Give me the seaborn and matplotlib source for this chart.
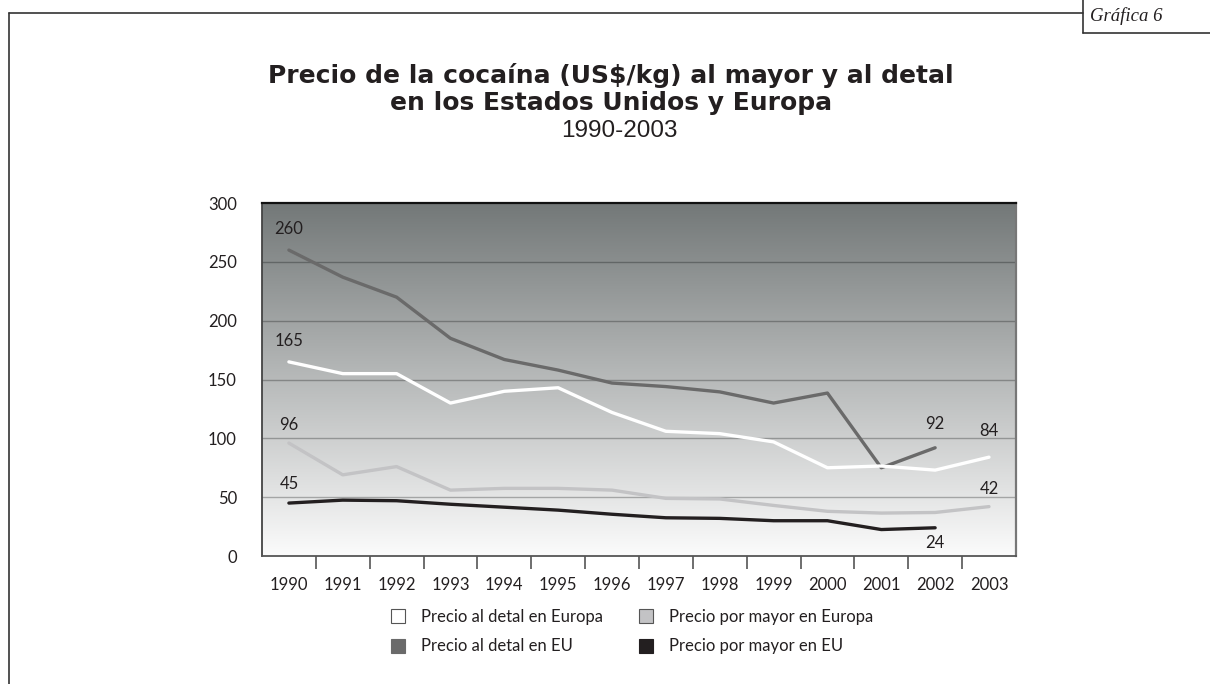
import numpy as np
import pandas as pd
import matplotlib
matplotlib.use("Agg")
import matplotlib.pyplot as plt
from matplotlib.colors import LinearSegmentedColormap
from matplotlib.lines import Line2D
import seaborn as sns

# Years and price series (US$/kg)
years = list(range(1990, 2004))
detal_europa = [165, 155, 155, 130, 140, 143, 122, 106, 104, 97, 75, 76.5, 73, 84]
detal_eu = [260, 237, 220, 185, 167, 158, 147, 144, 139.5, 130, 138.5, 75, 92, None]
mayor_europa = [96, 69, 76, 56, 57.5, 57.5, 56, 49, 48.5, 43, 38, 36.5, 37, 42]
mayor_eu = [45, 47.5, 47, 44, 41.5, 39, 35.5, 32.5, 32, 30, 30, 22.5, 24, None]

series_names = ["Precio al detal en Europa", "Precio al detal en EU",
                "Precio por mayor en Europa", "Precio por mayor en EU"]
series_values = [detal_europa, detal_eu, mayor_europa, mayor_eu]
series_colors = ["#ffffff", "#6a6a6a", "#c3c3c5", "#231f20"]

rows = []
for name, vals in zip(series_names, series_values):
    for y, v in zip(years, vals):
        if v is not None:
            rows.append({"year": y, "precio": v, "serie": name})
df = pd.DataFrame(rows)

sns.set_style("white")
plt.rcParams["font.family"] = ["Lato", "DejaVu Sans"]

fig = plt.figure(figsize=(12.1, 6.84), dpi=100)
ax = fig.add_axes([0.2165, 0.1871, 0.6231, 0.5161])

x0, x1 = 1989.5, 2003.5
# gradient background of the plotting area
cmap = LinearSegmentedColormap.from_list("fondo", [(0.985, 0.985, 0.985), (0.45, 0.47, 0.47)])
grad = np.linspace(0, 1, 256).reshape(-1, 1)
ax.imshow(grad, extent=[x0, x1, 0, 300], origin="lower", aspect="auto", cmap=cmap, zorder=0)

for yv in [50, 100, 150, 200, 250]:
    ax.axhline(yv, color="black", alpha=0.28, lw=1.0, zorder=1)

draw_order = ["Precio al detal en EU", "Precio al detal en Europa",
              "Precio por mayor en Europa", "Precio por mayor en EU"]
palette = dict(zip(series_names, series_colors))
for name in draw_order:
    sns.lineplot(data=df[df.serie == name], x="year", y="precio", color=palette[name],
                 lw=2.4, ax=ax, zorder=3, legend=False)

ax.set_xlim(x0, x1)
ax.set_ylim(0, 300)
ax.set_xlabel("")
ax.set_ylabel("")

# category boundaries as ticks, years as labels
ax.set_xticks([y + 0.5 for y in years[:-1]])
ax.set_xticklabels([])
ax.set_xticks(years, minor=True)
ax.set_xticklabels([str(y) for y in years], minor=True, fontsize=12, color="#231f20")
ax.tick_params(axis="x", which="major", direction="out", length=9, width=1.2,
               color="#555555", bottom=True)
ax.tick_params(axis="x", which="minor", length=0, pad=15)
ax.set_yticks([0, 50, 100, 150, 200, 250, 300])
ax.set_yticklabels(["0", "50", "100", "150", "200", "250", "300"], fontsize=12, color="#231f20")
ax.tick_params(axis="y", length=0, pad=18)

for side, col, lw in [("top", "#111111", 1.6), ("left", "#444444", 1.3),
                      ("bottom", "#555555", 1.3), ("right", "#777777", 1.6)]:
    ax.spines[side].set_visible(True)
    ax.spines[side].set_color(col)
    ax.spines[side].set_linewidth(lw)

# value labels
labels = [(1990, 260, 15), (1990, 165, 15), (1990, 96, 13), (1990, 45, 14),
          (2002, 92, 17), (2003, 84, 19), (2003, 42, 13), (2002, 24, -11)]
for x, v, off in labels:
    ax.annotate(str(v), (x, v), xytext=(0, off), textcoords="offset points",
                ha="center", va="center", fontsize=12, color="#231f20", zorder=5)

# legend (filled column by column: detal on the left, por mayor on the right)
handles = [Line2D([], [], ls="none", marker="s", markersize=10.5, markerfacecolor=c,
                  markeredgecolor="#555555" if c in ("#ffffff", "#c3c3c5") else c,
                  markeredgewidth=0.8) for c in series_colors]
fig.legend(handles, series_names, ncol=2, loc="upper left",
           bbox_to_anchor=(375 / 1210, 1 - 594 / 684), frameon=False, fontsize=12,
           handlelength=1.0, handletextpad=0.85, columnspacing=2.1, labelspacing=0.8,
           labelcolor="#231f20")

# titles
fig.text(0.505, 1 - 75 / 684, "Precio de la cocaína (US$/kg) al mayor y al detal",
         ha="center", va="center", fontsize=18, fontweight="bold",
         family=["DejaVu Sans"], color="#231f20")
fig.text(0.505, 1 - 103 / 684, "en los Estados Unidos y Europa",
         ha="center", va="center", fontsize=18, fontweight="bold",
         family=["DejaVu Sans"], color="#231f20")
fig.text(0.512, 1 - 131 / 684, "1990-2003", ha="center", va="center", fontsize=17.5,
         family=["Liberation Sans Narrow", "Liberation Sans"], color="#231f20")

# page frame and tag box
fc = "#333333"
fig.add_artist(Line2D([9 / 1210, 9 / 1210], [0, 1 - 13 / 684], color=fc, lw=1.2,
                      transform=fig.transFigure))
fig.add_artist(Line2D([9 / 1210, 1083 / 1210], [1 - 13 / 684, 1 - 13 / 684], color=fc,
                      lw=1.2, transform=fig.transFigure))
fig.add_artist(Line2D([1083 / 1210, 1083 / 1210], [1, 1 - 33 / 684], color=fc, lw=1.2,
                      transform=fig.transFigure))
fig.add_artist(Line2D([1083 / 1210, 1], [1 - 33 / 684, 1 - 33 / 684], color=fc, lw=1.2,
                      transform=fig.transFigure))
fig.text(1090 / 1210, 1 - 16 / 684, "Gráfica 6", ha="left", va="center", fontsize=13.5,
         style="italic", family=["Liberation Serif", "DejaVu Serif"], color="#231f20")

fig.savefig("out.png", dpi=100)
